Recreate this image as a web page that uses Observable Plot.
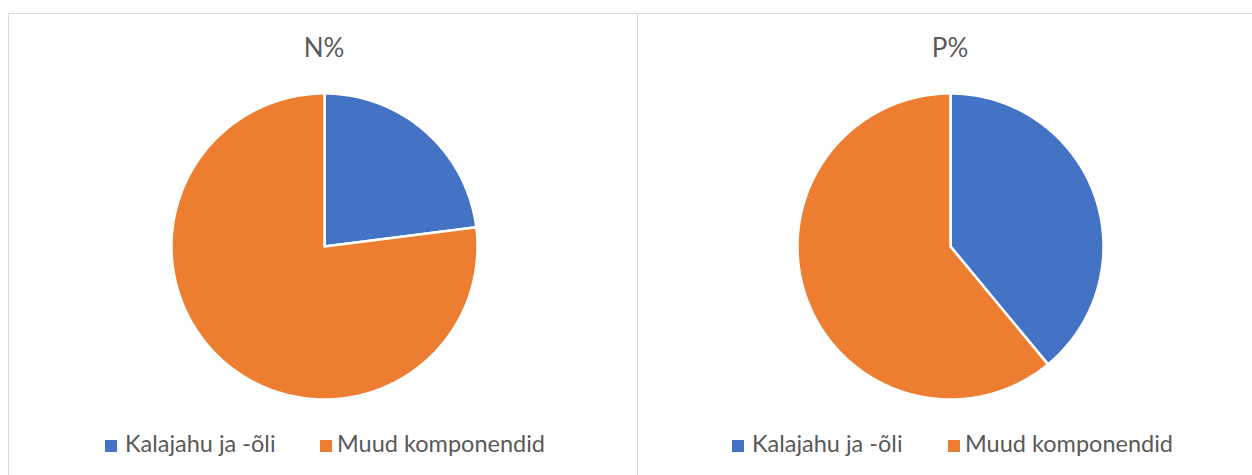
<!DOCTYPE html>
<html>
<head>
<meta charset="utf-8">
<script src="https://cdn.jsdelivr.net/npm/d3@7"></script>
<script src="https://cdn.jsdelivr.net/npm/@observablehq/plot@0.6"></script>
<style>
  html, body { margin: 0; padding: 0; background: #fff; }
  body { width: 1252px; height: 475px; position: relative; overflow: hidden; font-family: Lato, "Open Sans", sans-serif; }
  .panel { position: absolute; top: 13px; height: 480px; box-sizing: border-box; border-top: 1px solid #d9d9d9; border-left: 1px solid #d9d9d9; }
  .title { position: absolute; top: 32px; width: 200px; text-align: center; font-size: 26px; color: #595959; line-height: 30px; }
  .chart { position: absolute; top: 81px; }
  .chart svg { max-width: none !important; }
  .leg { position: absolute; top: 430px; font-size: 23.5px; color: #595959; line-height: 26px; white-space: nowrap; }
  .sw { position: absolute; width: 12px; height: 12px; top: 440px; }
</style>
</head>
<body>
<div id="root"></div>
<script>
// ---- data ----
const categories = ["Kalajahu ja -õli", "Muud komponendid"];
const colors = ["#4472C4", "#ED7D31"];
const titles = ["N%", "P%"];
const nValues = [23, 77];
const pValues = [39, 61];

// ---- layout ----
const panels = [
  {values: nValues, title: titles[0], left: 8, width: 629, cx: 316,
   legend: [{sw: 105, tx: 125}, {sw: 320, tx: 337}]},
  {values: pValues, title: titles[1], left: 637, width: 615, cx: 313,
   legend: [{sw: 732, tx: 752}, {sw: 948, tx: 965}]}
];
const R = 153, H = 330;

function slices(values) {
  const arcs = d3.pie().sort(null)(values);
  const pts = [];
  arcs.forEach((a, i) => {
    const cat = categories[i];
    pts.push({cat, x: 0, y: 0});
    const n = Math.max(2, Math.ceil((a.endAngle - a.startAngle) / (Math.PI / 360)));
    for (let k = 0; k <= n; k++) {
      const t = a.startAngle + (a.endAngle - a.startAngle) * k / n;
      pts.push({cat, x: Math.sin(t), y: Math.cos(t)});
    }
    pts.push({cat, x: 0, y: 0});
  });
  return pts;
}

const root = document.getElementById("root");
panels.forEach(p => {
  const panel = document.createElement("div");
  panel.className = "panel";
  panel.style.left = p.left + "px";
  panel.style.width = (p.width + 20) + "px";
  root.appendChild(panel);

  const title = document.createElement("div");
  title.className = "title";
  title.textContent = p.title;
  title.style.left = (p.left + p.cx - 100) + "px";
  root.appendChild(title);

  const chart = Plot.plot({
    width: p.width,
    height: H,
    marginLeft: p.cx - R,
    marginRight: p.width - p.cx - R,
    marginTop: H / 2 - R,
    marginBottom: H / 2 - R,
    x: {domain: [-1, 1], axis: null},
    y: {domain: [-1, 1], axis: null},
    color: {domain: categories, range: colors},
    style: {background: "transparent"},
    marks: [
      Plot.line(slices(p.values), {x: "x", y: "y", z: "cat", fill: "cat", stroke: "white", strokeWidth: 2.5, strokeLinejoin: "round", curve: "linear"})
    ]
  });
  const wrap = document.createElement("div");
  wrap.className = "chart";
  wrap.style.left = p.left + "px";
  wrap.style.width = p.width + "px";
  wrap.appendChild(chart);
  root.appendChild(wrap);

  categories.forEach((c, i) => {
    const sw = document.createElement("div");
    sw.className = "sw";
    sw.style.left = p.legend[i].sw + "px";
    sw.style.background = colors[i];
    root.appendChild(sw);
    const t = document.createElement("div");
    t.className = "leg";
    t.style.left = p.legend[i].tx + "px";
    t.textContent = c;
    root.appendChild(t);
  });
});
</script>
</body>
</html>
